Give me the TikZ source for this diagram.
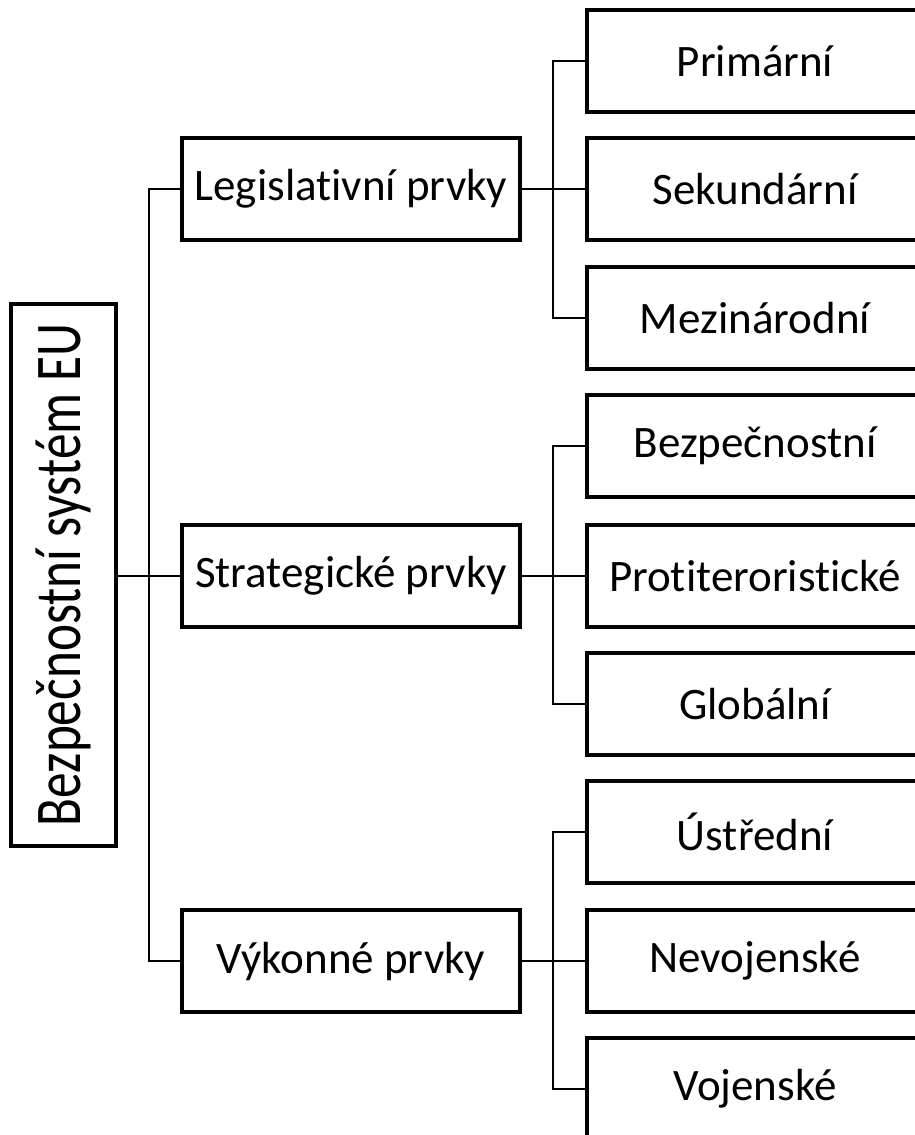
\documentclass[tikz,border=0pt]{standalone}
\usepackage{fontspec}
\setmainfont[Ligatures=NoCommon]{Carlito}

\begin{document}
\begin{tikzpicture}[x=1pt,y=-1pt,
	every node/.style={inner sep=0pt,font=\fontsize{45}{54}\selectfont},
	box/.style={rectangle, draw, line width=3.5pt, minimum height=102pt},
	conn/.style={draw, line width=2pt}
]
\useasboundingbox (0,0) rectangle (915,1135);
\clip (0,0) rectangle (915,1135);
% root
\node (0) [box, minimum height=105pt, minimum width=542pt, rotate=90] at (63.5, 575) {\scalebox{1.14}[1.45]{Bezpečnostní systém EU}};
% middle level
\node (1) [box, minimum width=338pt] at (351, 189) {Legislativní prvky};
\node (2) [box, minimum width=338pt] at (351, 576) {Strategické prvky};
\node (3) [box, minimum width=338pt] at (351, 961) {Výkonné prvky};
% leaves
\node (11) [box, minimum width=336pt] at (755, 61) {Primární};
\node (12) [box, minimum width=336pt] at (755, 189) {Sekundární};
\node (13) [box, minimum width=336pt] at (755, 318) {Mezinárodní};
\node (21) [box, minimum width=336pt] at (755, 446) {Bezpečnostní};
\node (22) [box, minimum width=336pt] at (755, 576) {Protiteroristické};
\node (23) [box, minimum width=336pt] at (755, 704) {Globální};
\node (31) [box, minimum width=336pt] at (755, 832) {Ústřední};
\node (32) [box, minimum width=336pt] at (755, 961) {Nevojenské};
\node (33) [box, minimum width=336pt] at (755, 1089) {Vojenské};
% junctions
\coordinate (j0) at (149, 576);
\coordinate (j1) at (553, 189);
\coordinate (j2) at (553, 576);
\coordinate (j3) at (553, 961);
\path [conn]
(0.south |- j0) -- (j0)
(j0) |- (1.west)
(j0) -- (2.west)
(j0) |- (3.west);
\path [conn]
(1.east) -- (j1)
(j1) |- (11.west)
(j1) -- (12.west)
(j1) |- (13.west)
(2.east) -- (j2)
(j2) |- (21.west)
(j2) -- (22.west)
(j2) |- (23.west)
(3.east) -- (j3)
(j3) |- (31.west)
(j3) -- (32.west)
(j3) |- (33.west);
\end{tikzpicture}
\end{document}
